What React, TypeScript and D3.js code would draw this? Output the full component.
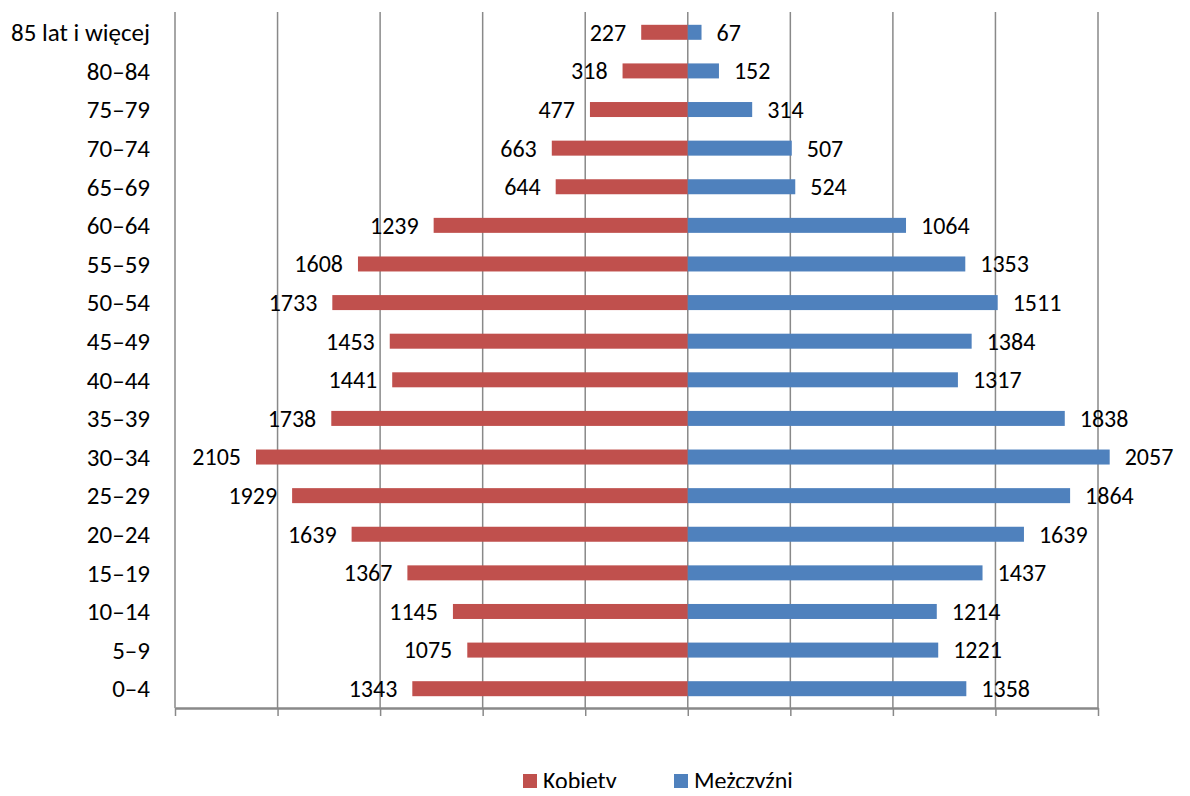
import React, { useEffect, useRef } from 'react'
import * as d3 from 'd3'

const ageGroups = [
  '85 lat i więcej',
  '80–84',
  '75–79',
  '70–74',
  '65–69',
  '60–64',
  '55–59',
  '50–54',
  '45–49',
  '40–44',
  '35–39',
  '30–34',
  '25–29',
  '20–24',
  '15–19',
  '10–14',
  '5–9',
  '0–4',
]
const women = [
  227, 318, 477, 663, 644, 1239, 1608, 1733, 1453, 1441, 1738, 2105, 1929,
  1639, 1367, 1145, 1075, 1343,
]
const men = [
  67, 152, 314, 507, 524, 1064, 1353, 1511, 1384, 1317, 1838, 2057, 1864, 1639,
  1437, 1214, 1221, 1358,
]
const ticks = [-2500, -2000, -1500, -1000, -500, 0, 500, 1000, 1500, 2000]
const legendLabels = ['Kobiety', 'Mężczyźni']

const App: React.FC = () => {
  const svgRef = useRef<SVGSVGElement | null>(null)

  useEffect(() => {
    if (!svgRef.current) return
    const svg = d3.select(svgRef.current)
    svg.selectAll('*').remove()

    const width = 1190
    const height = 796
    const font = 'Carlito, Lato, sans-serif'
    const red = '#C0504D'
    const blue = '#4F81BD'
    const grid = '#898989'
    const fs = 24

    svg
      .attr('width', width)
      .attr('height', height)
      .attr('viewBox', [0, 0, width, height])
      .style('display', 'block')
      .style('font-family', font)

    const x = d3.scaleLinear().domain([-2500, 2000]).range([175, 1098])
    const y = d3.scaleBand().domain(ageGroups).range([13, 708]).padding(0)
    const barH = 15
    const cy = (name: string) => (y(name) ?? 0) + y.bandwidth() / 2

    // gridlines
    svg
      .append('g')
      .selectAll('line')
      .data(ticks)
      .join('line')
      .attr('x1', d => x(d))
      .attr('x2', d => x(d))
      .attr('y1', 12)
      .attr('y2', 708)
      .attr('stroke', grid)
      .attr('stroke-width', 1.5)

    const rows = ageGroups.map((name, i) => ({ name, w: women[i], m: men[i] }))

    // bars
    svg
      .append('g')
      .selectAll('rect')
      .data(rows)
      .join('rect')
      .attr('x', d => x(-d.w))
      .attr('y', d => cy(d.name) - barH / 2)
      .attr('width', d => x(0) - x(-d.w))
      .attr('height', barH)
      .attr('fill', red)

    svg
      .append('g')
      .selectAll('rect')
      .data(rows)
      .join('rect')
      .attr('x', x(0))
      .attr('y', d => cy(d.name) - barH / 2)
      .attr('width', d => x(d.m) - x(0))
      .attr('height', barH)
      .attr('fill', blue)

    // value labels
    svg
      .append('g')
      .attr('text-anchor', 'end')
      .attr('font-size', fs)
      .selectAll('text')
      .data(rows)
      .join('text')
      .attr('x', d => x(-d.w) - 15)
      .attr('y', d => cy(d.name))
      .attr('dy', '0.35em')
      .text(d => d.w)

    svg
      .append('g')
      .attr('text-anchor', 'start')
      .attr('font-size', fs)
      .selectAll('text')
      .data(rows)
      .join('text')
      .attr('x', d => x(d.m) + 15)
      .attr('y', d => cy(d.name))
      .attr('dy', '0.35em')
      .text(d => d.m)

    // category labels
    svg
      .append('g')
      .attr('text-anchor', 'end')
      .attr('font-size', fs + 1)
      .selectAll('text')
      .data(ageGroups)
      .join('text')
      .attr('x', 150)
      .attr('y', d => cy(d))
      .attr('dy', '0.35em')
      .text(d => d)

    // bottom axis
    svg
      .append('g')
      .attr('transform', 'translate(0,708)')
      .call(
        d3
          .axisBottom(x)
          .tickValues(ticks)
          .tickSize(8)
          .tickSizeOuter(0)
          .tickFormat(() => ''),
      )
      .call(g => g.select('.domain').attr('stroke', grid).attr('stroke-width', 2.5))
      .call(g => g.selectAll('.tick line').attr('stroke', grid).attr('stroke-width', 1.5))

    // legend
    const legend = svg
      .append('g')
      .selectAll('g')
      .data(legendLabels)
      .join('g')
      .attr('transform', (d, i) => `translate(${i === 0 ? 523 : 674},774)`)
    legend
      .append('rect')
      .attr('width', 14)
      .attr('height', 14)
      .attr('fill', (d, i) => (i === 0 ? red : blue))
    legend
      .append('text')
      .attr('x', 20)
      .attr('y', 7)
      .attr('dy', '0.35em')
      .attr('font-size', fs)
      .text(d => d)
  }, [])

  return (
    <div style={{ margin: -8 }}>
      <svg ref={svgRef}></svg>
    </div>
  )
}

export default App
